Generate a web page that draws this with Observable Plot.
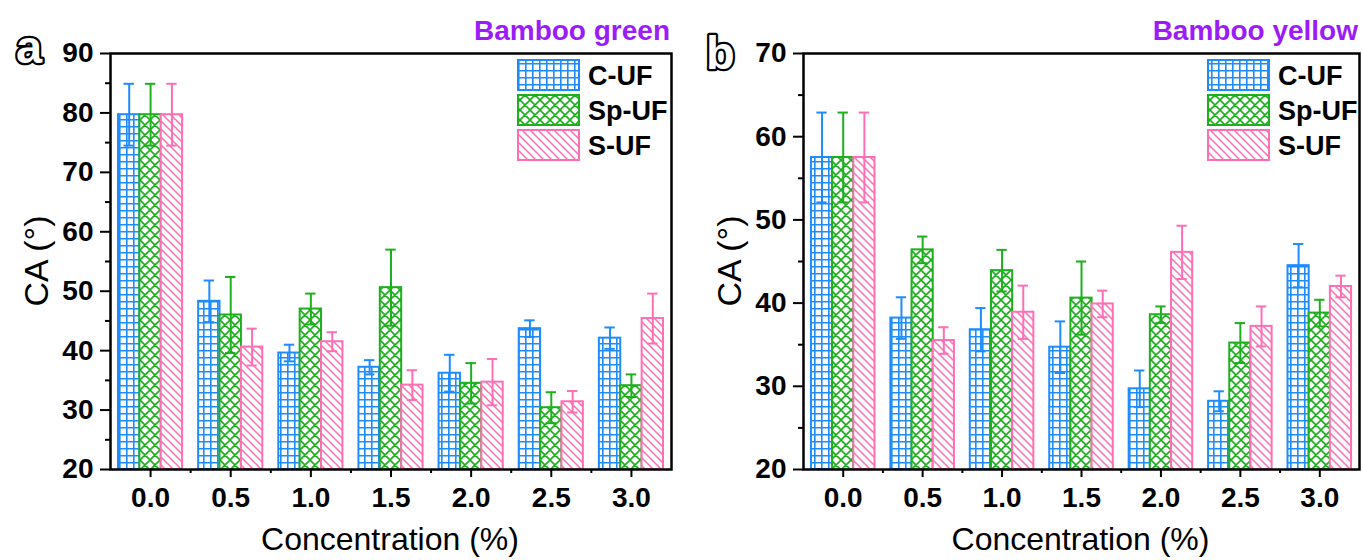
<!DOCTYPE html>
<html><head><meta charset="utf-8">
<script src="https://cdn.jsdelivr.net/npm/d3@7"></script>
<script src="https://cdn.jsdelivr.net/npm/@observablehq/plot@0.6"></script>
<style>
body{margin:0;background:#fff;width:1362px;height:560px;overflow:hidden;position:relative;font-family:"Liberation Sans",Arial,sans-serif;}
#pa,#pb{position:absolute;top:0;}
#pa{left:0}#pb{left:681px}
#overlay{position:absolute;left:0;top:0;}
</style></head><body>
<svg id="defs" width="0" height="0" style="position:absolute;left:0;top:0">
  <defs>
    <pattern id="pGrid" patternUnits="userSpaceOnUse" width="7" height="7">
      <rect width="7" height="7" fill="#fff"/>
      <path d="M0.8,0 V7 M0,0.8 H7" stroke="#1e8cff" stroke-width="1.6" fill="none"/>
    </pattern>
    <pattern id="pCross" patternUnits="userSpaceOnUse" width="10" height="10">
      <rect width="10" height="10" fill="#fff"/>
      <path d="M0,0 L10,10 M10,0 L0,10 M-1,9 L1,11 M9,-1 L11,1 M-1,1 L1,-1 M9,11 L11,9" stroke="#1cb01c" stroke-width="1.6" fill="none"/>
    </pattern>
    <pattern id="pHatch" patternUnits="userSpaceOnUse" width="8" height="8">
      <rect width="8" height="8" fill="#fff"/>
      <path d="M0,0 L8,8 M-2,6 L2,10 M6,-2 L10,2" stroke="#ff6eb4" stroke-width="1.5" fill="none"/>
    </pattern>
  </defs>
</svg>
<div id="pa"></div><div id="pb"></div>
<svg id="overlay" width="1362" height="560"></svg>
<script>
// ---- data ----
const concentrations = ["0.0","0.5","1.0","1.5","2.0","2.5","3.0"];
const seriesNames = ["C-UF","Sp-UF","S-UF"];

// Bamboo green (panel a)
const greenCUF      = [79.7, 48.3, 39.6, 37.2, 36.2, 43.7, 42.1];
const greenCUFerr   = [5.2, 3.5, 1.4, 1.2, 3.1, 1.4, 1.8];
const greenSpUF     = [79.7, 46.0, 47.0, 50.6, 34.5, 30.4, 34.1];
const greenSpUFerr  = [5.2, 6.4, 2.6, 6.4, 3.4, 2.6, 1.9];
const greenSUF      = [79.7, 40.6, 41.5, 34.2, 34.7, 31.4, 45.4];
const greenSUFerr   = [5.2, 3.1, 1.6, 2.5, 3.9, 1.8, 4.2];

// Bamboo yellow (panel b)
const yellowCUF     = [57.5, 38.2, 36.8, 34.7, 29.7, 28.2, 44.5];
const yellowCUFerr  = [5.4, 2.5, 2.6, 3.1, 2.2, 1.2, 2.6];
const yellowSpUF    = [57.5, 46.4, 43.9, 40.6, 38.6, 35.2, 38.8];
const yellowSpUFerr = [5.4, 1.6, 2.5, 4.4, 1.0, 2.4, 1.6];
const yellowSUF     = [57.5, 35.5, 38.9, 39.9, 46.1, 37.2, 42.0];
const yellowSUFerr  = [5.4, 1.6, 3.2, 1.6, 3.2, 2.4, 1.3];

const yTicksA = [20,30,40,50,60,70,80,90];
const yTicksB = [20,30,40,50,60,70];

// ---- styles ----
const colors = ["#1e8cff", "#1cb01c", "#ff6eb4"];
const patterns = ["url(#pGrid)", "url(#pCross)", "url(#pHatch)"];
const FONT = "'Liberation Sans', Arial, sans-serif";
const groupW = 0.8, barW = groupW / 3;

function rowsOf(vals, errs) {
  const rows = [];
  vals.forEach((v, s) => v.forEach((y, i) => rows.push({i, s, v: y, e: errs[s][i], c: i - groupW/2 + s*barW + barW/2})));
  return rows;
}

function panel(vals, errs, yTicks, opts) {
  const rows = rowsOf(vals, errs);
  const y0 = yTicks[0];
  const minor = yTicks.slice(0, -1).map(t => t + (yTicks[1]-yTicks[0])/2);
  const marks = [];
  for (let s = 0; s < 3; s++) {
    const r = rows.filter(d => d.s === s);
    marks.push(Plot.rect(r, {x1: d => d.c - barW/2, x2: d => d.c + barW/2, y1: () => y0, y2: "v",
      fill: patterns[s], stroke: colors[s], strokeWidth: 2, ariaLabel: "bars-" + s}));
  }
  for (let s = 0; s < 3; s++) {
    const r = rows.filter(d => d.s === s);
    marks.push(Plot.ruleX(r, {x: "c", y1: d => d.v - d.e, y2: d => d.v + d.e, stroke: colors[s], strokeWidth: 2}));
    marks.push(Plot.ruleY(r, {y: d => d.v + d.e, x1: d => d.c - 0.065, x2: d => d.c + 0.065, stroke: colors[s], strokeWidth: 2}));
    marks.push(Plot.ruleY(r, {y: d => d.v - d.e, x1: d => d.c - 0.065, x2: d => d.c + 0.065, stroke: colors[s], strokeWidth: 2}));
  }
  marks.push(Plot.axisY(yTicks, {tickSize: 10, tickPadding: 7, strokeWidth: 2, fontSize: 28, fontWeight: "bold", label: null, tickFormat: d => String(d)}));
  marks.push(Plot.axisY(minor, {tickSize: 5, strokeWidth: 2, label: null, tickFormat: () => ""}));
  marks.push(Plot.axisX(d3.range(concentrations.length), {tickSize: 8, tickPadding: 10, strokeWidth: 2, fontSize: 28, fontWeight: "bold", label: null, tickFormat: i => concentrations[i]}));
  marks.push(Plot.axisX(d3.range(0.5, concentrations.length - 1, 1), {tickSize: 4, strokeWidth: 2, label: null, tickFormat: () => ""}));
  marks.push(Plot.frame({stroke: "black", strokeWidth: 2.5}));
  const svg = Plot.plot({
    width: 681, height: 560,
    marginLeft: opts.ml, marginRight: opts.mr, marginTop: 53, marginBottom: 91,
    style: {fontFamily: FONT, color: "black", background: "transparent"},
    x: {domain: [-0.5, concentrations.length - 0.5], label: null},
    y: {domain: [y0, yTicks[yTicks.length-1]], label: null},
    marks
  });
  for (let s = 0; s < 3; s++) {
    d3.select(svg).selectAll(`g[aria-label="bars-${s}"] rect, g[aria-label="bars-${s}"]`).attr("fill", patterns[s]);
  }
  return svg;
}

document.getElementById("pa").appendChild(panel([greenCUF, greenSpUF, greenSUF], [greenCUFerr, greenSpUFerr, greenSUFerr], yTicksA, {ml: 110, mr: 10}));
document.getElementById("pb").appendChild(panel([yellowCUF, yellowSpUF, yellowSUF], [yellowCUFerr, yellowSpUFerr, yellowSUFerr], yTicksB, {ml: 122, mr: 3}));

// ---- annotations: panel letters, titles, legends, axis titles ----
const ov = d3.select("#overlay").style("font-family", FONT);
function txt(x, y, s, o) {
  const t = ov.append("text").attr("x", x).attr("y", y).text(s)
    .attr("font-size", o.size).attr("font-weight", o.weight || "normal")
    .attr("fill", o.fill || "black").attr("text-anchor", o.anchor || "start");
  if (o.stroke) t.attr("stroke", o.stroke).attr("stroke-width", o.sw).attr("stroke-linejoin", "round");
  if (o.rotate) t.attr("transform", `rotate(${o.rotate},${x},${y})`);
  return t;
}
const panels = [
  {letter: "a", lx: 16, ly: 63, title: "Bamboo green", right: 670, legX: 518, left: 110, yLabX: 48},
  {letter: "b", lx: 706, ly: 69, title: "Bamboo yellow", right: 1358, legX: 1208, left: 803, yLabX: 741}
];
panels.forEach(p => {
  // outlined (hollow) panel letter: black outline under a white glyph
  txt(p.lx, p.ly, p.letter, {size: 47, weight: "bold", fill: "black", stroke: "black", sw: 4.5});
  txt(p.lx, p.ly, p.letter, {size: 47, weight: "bold", fill: "white"});
  txt(p.right, 40, p.title, {size: 28, weight: "bold", fill: "#9b1cf7", anchor: "end"});
  seriesNames.forEach((n, s) => {
    const y = 60 + s * 35;
    ov.append("rect").attr("x", p.legX).attr("y", y).attr("width", 61).attr("height", 30)
      .attr("fill", patterns[s]).attr("stroke", colors[s]).attr("stroke-width", 2);
    txt(p.legX + 70, y + 25, n, {size: 27, weight: "bold"});
  });
  txt(p.yLabX, 261, "CA (°)", {size: 34, anchor: "middle", rotate: -90});
  const cx = (p.left + p.right) / 2;
  txt(cx, 550, "Concentration (%)", {size: 32, anchor: "middle"});
});
</script>
</body></html>
